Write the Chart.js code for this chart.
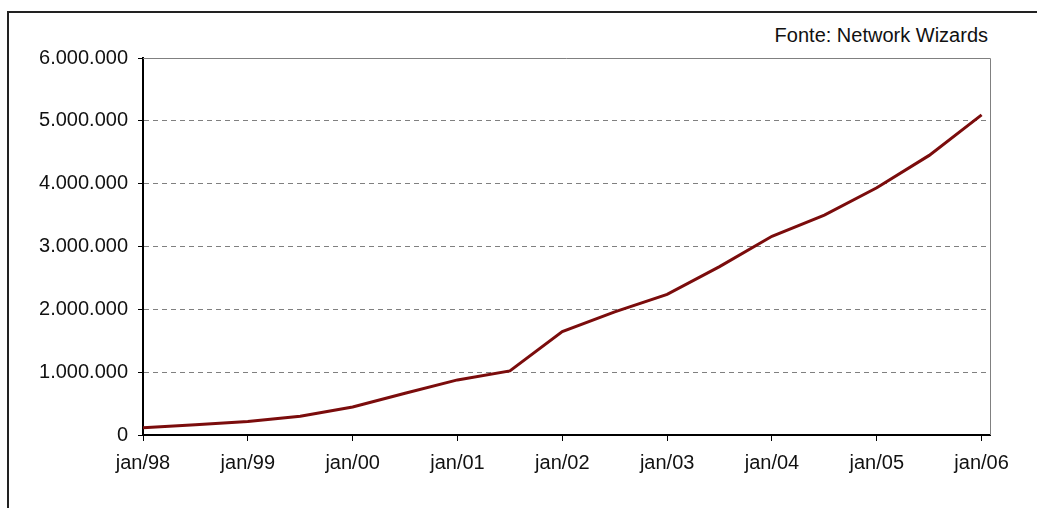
<!DOCTYPE html>
<html>
<head>
<meta charset="utf-8">
<script src="https://cdn.jsdelivr.net/npm/chart.js@4.4.0/dist/chart.umd.min.js"></script>
<style>
  html, body { margin: 0; padding: 0; background: #fff; overflow: hidden; }
  #wrap { position: relative; width: 1037px; height: 508px; }
  #frame { position: absolute; left: 7px; top: 11px; width: 1100px; height: 600px; border: 2px solid #222; }
  #fonte { position: absolute; right: 49px; top: 24px; font: 20px "Liberation Sans", Arial, sans-serif; color: #111; }
  canvas { position: absolute; left: 0; top: 0; }
</style>
</head>
<body>
<div id="wrap">
  <div id="frame"></div>
  <div id="fonte">Fonte: Network Wizards</div>
  <canvas id="grafico" width="1037" height="508"></canvas>
</div>
<script>
// anos desde jan/98 (pesquisas de janeiro e julho)
var anos = [0, 0.5, 1, 1.5, 2, 2.5, 3, 3.5, 4, 4.5, 5, 5.5, 6, 6.5, 7, 7.5, 8];
var hosts = [117200, 163890, 215086, 300000, 446444, 665000, 876596, 1020000, 1644575,
             1960000, 2237527, 2680000, 3163349, 3500000, 3934577, 4450000, 5094730];
var rotulosX = ['jan/98', 'jan/99', 'jan/00', 'jan/01', 'jan/02', 'jan/03', 'jan/04', 'jan/05', 'jan/06'];

var fonte = { family: '"Liberation Sans", Arial, sans-serif', size: 20 };

// borda cinza em cima e a direita da area do grafico
var bordaPlot = {
    id: 'bordaPlot',
    beforeDatasetsDraw: function (chart) {
        var ctx = chart.ctx, a = chart.chartArea;
        ctx.save();
        ctx.strokeStyle = '#808080';
        ctx.lineWidth = 1;
        ctx.beginPath();
        ctx.moveTo(a.left, a.top + 0.5);
        ctx.lineTo(a.right + 0.5, a.top + 0.5);
        ctx.lineTo(a.right + 0.5, a.bottom);
        ctx.stroke();
        ctx.restore();
    }
};

function pontos(n) {
    return String(n).replace(/\B(?=(\d{3})+(?!\d))/g, '.');
}

var ctx = document.getElementById('grafico').getContext('2d');
new Chart(ctx, {
    type: 'line',
    data: {
        datasets: [{
            data: anos.map(function (a, i) { return { x: a, y: hosts[i] }; }),
            borderColor: '#7b0c0c',
            borderWidth: 3,
            pointRadius: 0,
            tension: 0,
            fill: false
        }]
    },
    options: {
        responsive: false,
        animation: false,
        events: [],
        layout: { padding: { left: 0, right: 47, top: 58, bottom: 23 } },
        plugins: { legend: { display: false }, tooltip: { enabled: false } },
        scales: {
            x: {
                type: 'linear',
                min: 0,
                max: 8.08,
                grid: { drawOnChartArea: false, tickColor: '#000', tickLength: 6 },
                border: { color: '#000', width: 2 },
                ticks: {
                    stepSize: 1,
                    includeBounds: false,
                    maxRotation: 0,
                    padding: 10,
                    color: '#111',
                    font: fonte,
                    callback: function (v) { return rotulosX[v]; }
                }
            },
            y: {
                min: 0,
                max: 6000000,
                afterFit: function (s) { s.width = 143; },
                grid: {
                    color: function (c) {
                        var v = c.tick && c.tick.value;
                        return (v === 0 || v === 6000000) ? 'rgba(0,0,0,0)' : '#808080';
                    },
                    tickColor: '#000',
                    tickLength: 5
                },
                border: { color: '#000', width: 2, dash: [5, 4] },
                ticks: {
                    stepSize: 1000000,
                    padding: 10,
                    color: '#111',
                    font: fonte,
                    callback: function (v) { return pontos(v); }
                }
            }
        }
    },
    plugins: [bordaPlot]
});
</script>
</body>
</html>
